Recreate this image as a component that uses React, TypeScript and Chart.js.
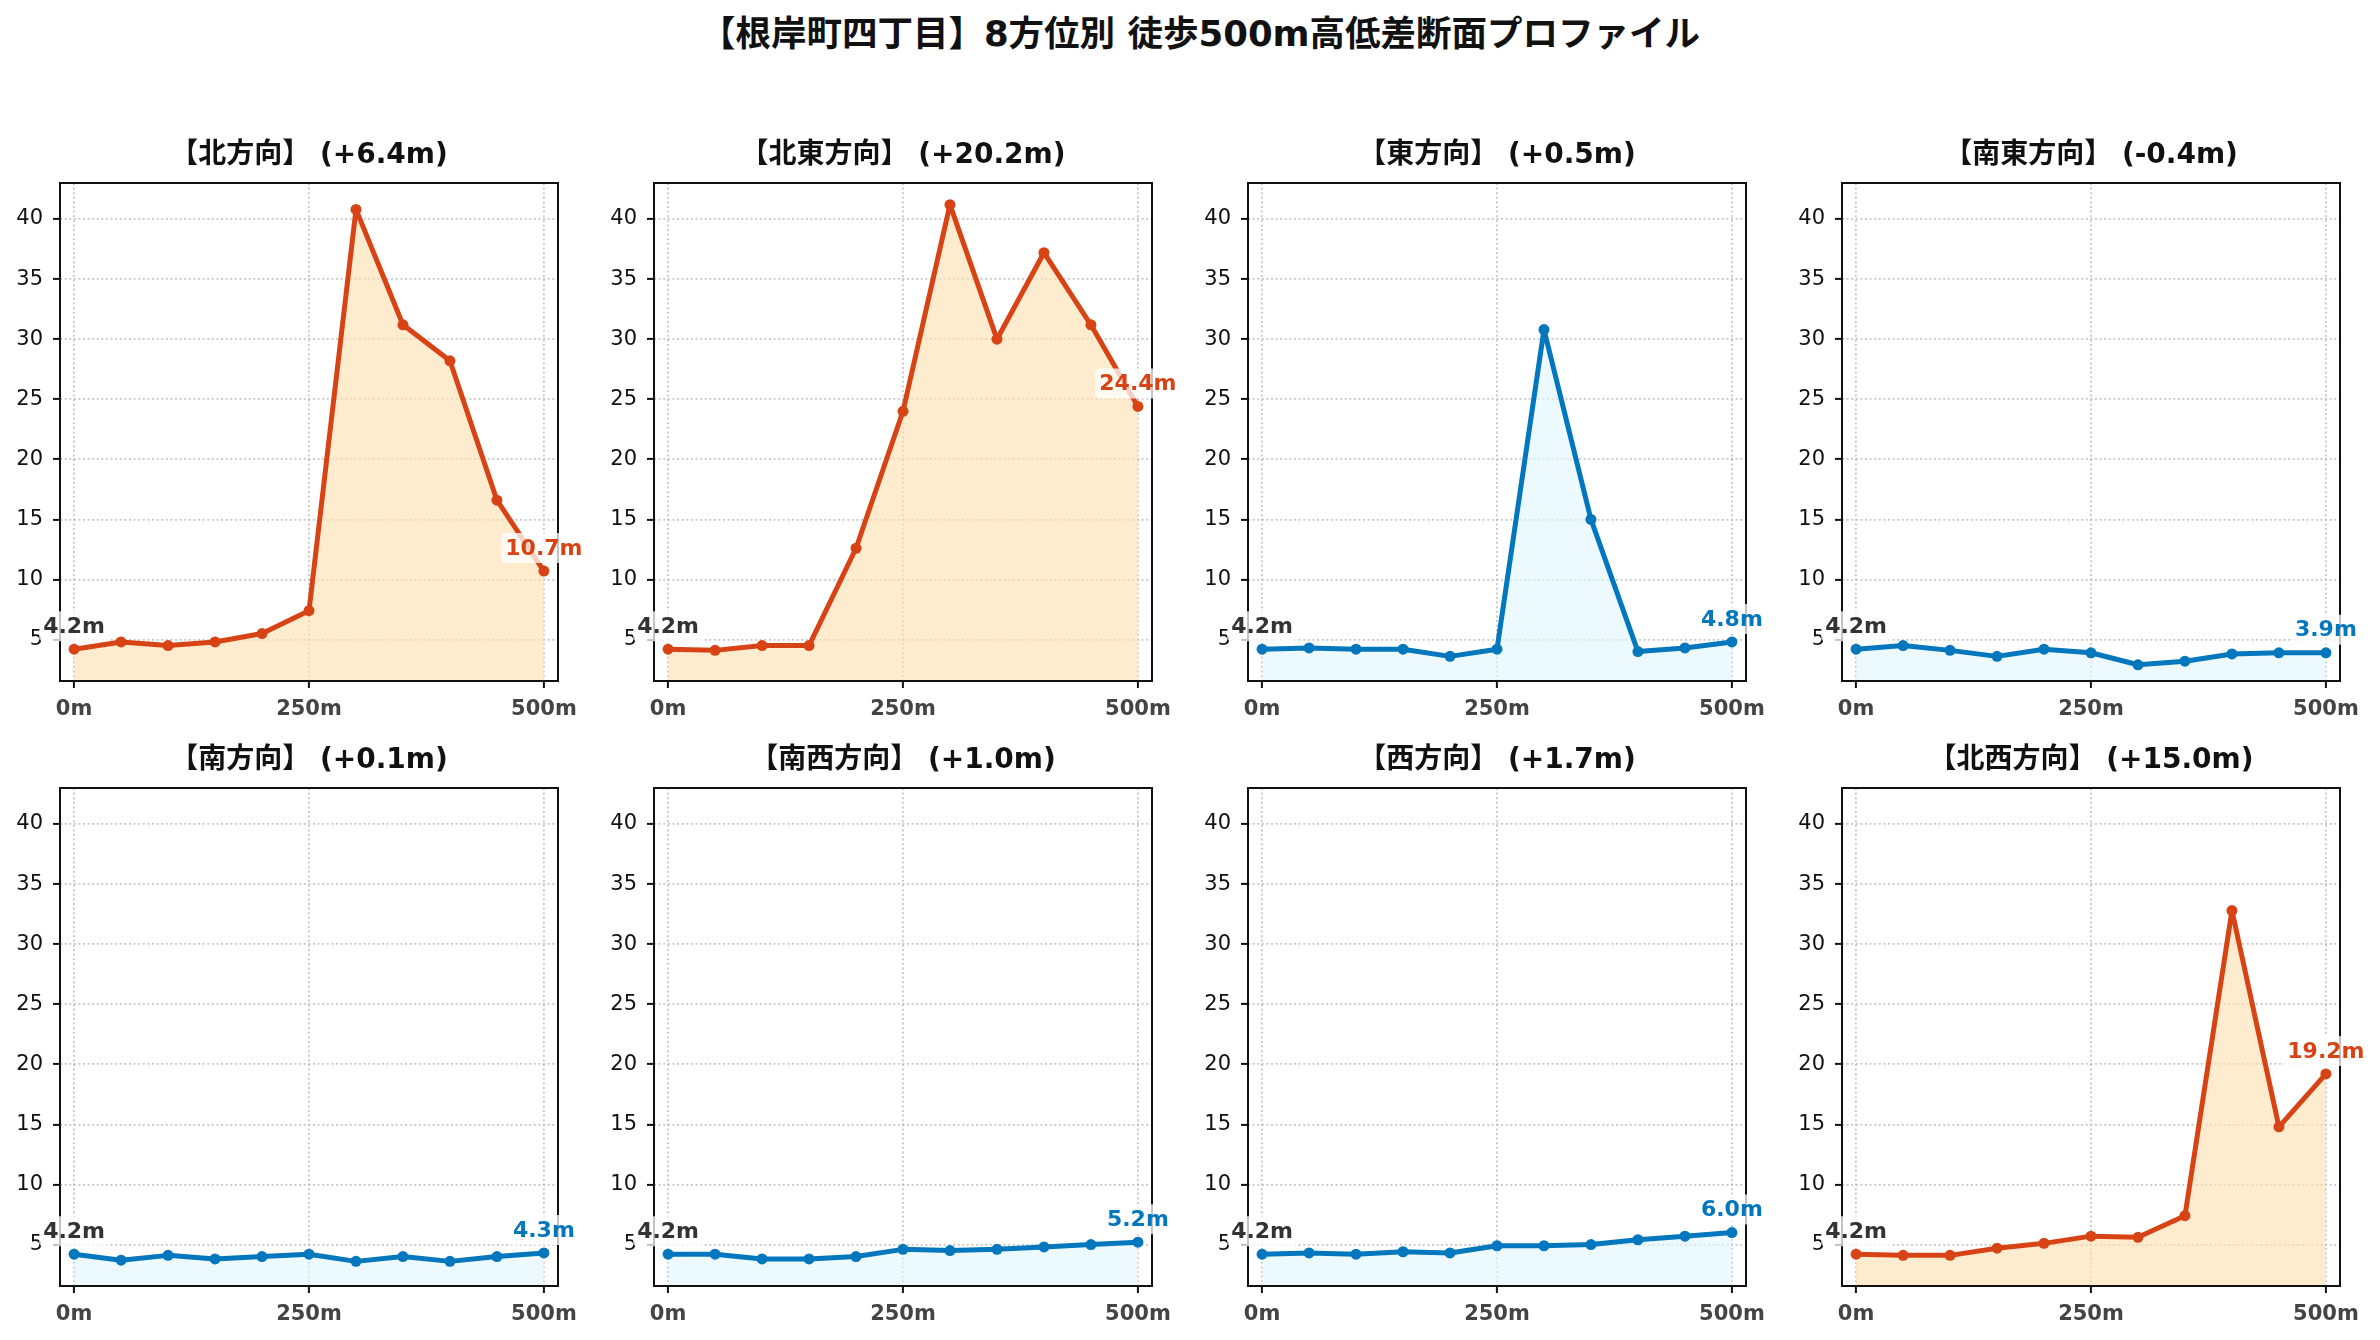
import React, { useEffect, useRef } from 'react';
import { Chart, registerables } from 'chart.js';

Chart.register(...registerables);

const FONT = '"DejaVu Sans", "Noto Sans CJK JP", sans-serif';

const MAIN_TITLE = '【根岸町四丁目】8方位別 徒歩500m高低差断面プロファイル';
const DIRECTIONS = ['北', '北東', '東', '南東', '南', '南西', '西', '北西'];
const DIFFS = [6.4, 20.2, 0.5, -0.4, 0.1, 1.0, 1.7, 15.0];
const DISTANCES = [0, 50, 100, 150, 200, 250, 300, 350, 400, 450, 500];
const X_TICKS = [0, 250, 500];
const Y_TICKS = [5, 10, 15, 20, 25, 30, 35, 40];

const NORTH = [4.2, 4.8, 4.5, 4.8, 5.5, 7.4, 40.8, 31.2, 28.2, 16.6, 10.7];
const NORTHEAST = [4.2, 4.1, 4.5, 4.5, 12.6, 24.0, 41.2, 30.0, 37.2, 31.2, 24.4];
const EAST = [4.2, 4.3, 4.2, 4.2, 3.6, 4.2, 30.8, 15.0, 4.0, 4.3, 4.8];
const SOUTHEAST = [4.2, 4.5, 4.1, 3.6, 4.2, 3.9, 2.9, 3.2, 3.8, 3.9, 3.9];
const SOUTH = [4.2, 3.7, 4.1, 3.8, 4.0, 4.2, 3.6, 4.0, 3.6, 4.0, 4.3];
const SOUTHWEST = [4.2, 4.2, 3.8, 3.8, 4.0, 4.6, 4.5, 4.6, 4.8, 5.0, 5.2];
const WEST = [4.2, 4.3, 4.2, 4.4, 4.3, 4.9, 4.9, 5.0, 5.4, 5.7, 6.0];
const NORTHWEST = [4.2, 4.1, 4.1, 4.7, 5.1, 5.7, 5.6, 7.4, 32.8, 14.8, 19.2];

const SERIES = [NORTH, NORTHEAST, EAST, SOUTHEAST, SOUTH, SOUTHWEST, WEST, NORTHWEST];

const RED = '#D84315';
const RED_FILL = 'rgba(255, 224, 178, 0.62)';
const BLUE = '#0277BD';
const BLUE_FILL = 'rgba(225, 245, 254, 0.62)';

const X_MIN = -15;
const X_MAX = 515;
const Y_MIN = 1.55;
const Y_MAX = 43;

// layout (pixels)
const COL_LEFTS = [60, 654, 1248, 1842];
const ROW_TOPS = [183, 788];
const AREA_W = 498;
const AREA_H = 498;
const PAD_LEFT = 60;
const PAD_TOP = 60;
const CANVAS_W = 594;
const CANVAS_H = 608;
const XAXIS_H = CANVAS_H - PAD_TOP - AREA_H;

function fmtDiff(d: number) {
  return (d >= 0 ? '+' : '') + d.toFixed(1);
}

function Panel({ index }: { index: number }) {
  const ref = useRef<HTMLCanvasElement | null>(null);

  useEffect(() => {
    const canvas = ref.current;
    if (!canvas) return;
    const values = SERIES[index];
    const diff = DIFFS[index];
    const color = diff > 5 ? RED : BLUE;
    const fill = diff > 5 ? RED_FILL : BLUE_FILL;
    const title = `【${DIRECTIONS[index]}方向】 (${fmtDiff(diff)}m)`;
    const points = DISTANCES.map((d, i) => ({ x: d, y: values[i] }));

    const deco = {
      id: 'panelDeco' + index,
      afterDraw(chart: any) {
        const { ctx, chartArea: a } = chart;
        ctx.save();
        // frame
        ctx.strokeStyle = '#111';
        ctx.lineWidth = 2;
        ctx.setLineDash([]);
        ctx.strokeRect(a.left, a.top, a.right - a.left, a.bottom - a.top);
        // panel title
        ctx.font = `bold 28px ${FONT}`;
        ctx.fillStyle = '#111';
        ctx.textAlign = 'center';
        ctx.textBaseline = 'middle';
        ctx.fillText(title, (a.left + a.right) / 2, a.top - 27);
        // start / end labels
        const meta = chart.getDatasetMeta(0);
        const pts = meta.data;
        const drawLabel = (pt: any, text: string, col: string) => {
          ctx.font = `bold 22px ${FONT}`;
          const w = ctx.measureText(text).width;
          const cx = pt.x;
          const cy = pt.y - 23;
          const bw = w + 8;
          const bh = 30;
          ctx.fillStyle = 'rgba(255,255,255,0.75)';
          ctx.beginPath();
          const r = 4;
          const x0 = cx - bw / 2;
          const y0 = cy - bh / 2;
          ctx.moveTo(x0 + r, y0);
          ctx.lineTo(x0 + bw - r, y0);
          ctx.quadraticCurveTo(x0 + bw, y0, x0 + bw, y0 + r);
          ctx.lineTo(x0 + bw, y0 + bh - r);
          ctx.quadraticCurveTo(x0 + bw, y0 + bh, x0 + bw - r, y0 + bh);
          ctx.lineTo(x0 + r, y0 + bh);
          ctx.quadraticCurveTo(x0, y0 + bh, x0, y0 + bh - r);
          ctx.lineTo(x0, y0 + r);
          ctx.quadraticCurveTo(x0, y0, x0 + r, y0);
          ctx.closePath();
          ctx.fill();
          ctx.fillStyle = col;
          ctx.textAlign = 'center';
          ctx.textBaseline = 'middle';
          ctx.fillText(text, cx, cy + 1);
        };
        drawLabel(pts[0], `${values[0].toFixed(1)}m`, '#333333');
        const last = values.length - 1;
        drawLabel(pts[last], `${values[last].toFixed(1)}m`, color);
        ctx.restore();
      },
    };

    const chart = new Chart(canvas, {
      type: 'line',
      data: {
        datasets: [
          {
            data: points,
            borderColor: color,
            backgroundColor: fill,
            borderWidth: 5,
            borderJoinStyle: 'round',
            borderCapStyle: 'round',
            pointRadius: 5.5,
            pointBackgroundColor: color,
            pointBorderColor: color,
            pointBorderWidth: 0,
            fill: 'start',
            tension: 0,
          },
        ],
      },
      options: {
        animation: false,
        responsive: false,
        events: [],
        layout: {
          padding: { left: 0, top: PAD_TOP, right: CANVAS_W - PAD_LEFT - AREA_W, bottom: 0 },
        },
        plugins: {
          legend: { display: false },
          tooltip: { enabled: false },
          title: { display: false },
        },
        scales: {
          x: {
            type: 'linear',
            min: X_MIN,
            max: X_MAX,
            afterBuildTicks: (axis: any) => {
              axis.ticks = X_TICKS.map((v) => ({ value: v }));
            },
            afterFit: (axis: any) => {
              axis.height = XAXIS_H;
            },
            ticks: {
              callback: (v: any) => `${v}m`,
              font: { family: FONT, size: 21, weight: 'bold' },
              color: '#444444',
              padding: 9,
              maxRotation: 0,
              autoSkip: false,
            },
            grid: {
              color: 'rgba(175,175,175,0.7)',
              lineWidth: 1.8,
              tickColor: '#111',
              tickLength: 7,
              tickWidth: 2,
              tickBorderDash: [],
            },
            border: { display: false, dash: [2, 2.6] },
          },
          y: {
            type: 'linear',
            min: Y_MIN,
            max: Y_MAX,
            afterBuildTicks: (axis: any) => {
              axis.ticks = Y_TICKS.map((v) => ({ value: v }));
            },
            afterFit: (axis: any) => {
              axis.width = PAD_LEFT;
            },
            ticks: {
              font: { family: FONT, size: 21 },
              color: '#111',
              padding: 10,
              autoSkip: false,
            },
            grid: {
              color: 'rgba(175,175,175,0.7)',
              lineWidth: 1.8,
              tickColor: '#111',
              tickLength: 7,
              tickWidth: 2,
              tickBorderDash: [],
            },
            border: { display: false, dash: [2, 2.6] },
          },
        },
      } as any,
      plugins: [deco],
    });
    return () => chart.destroy();
  }, [index]);

  const col = index % 4;
  const row = Math.floor(index / 4);
  return (
    <canvas
      ref={ref}
      width={CANVAS_W}
      height={CANVAS_H}
      style={{
        position: 'absolute',
        left: COL_LEFTS[col] - PAD_LEFT,
        top: ROW_TOPS[row] - PAD_TOP,
        width: CANVAS_W,
        height: CANVAS_H,
      }}
    />
  );
}

export default function App() {
  useEffect(() => {
    document.body.style.margin = '0';
  }, []);
  return (
    <div
      style={{
        position: 'absolute',
        left: 0,
        top: 0,
        width: 2380,
        height: 1340,
        background: '#ffffff',
        overflow: 'hidden',
      }}
    >
      <div
        style={{
          position: 'absolute',
          left: 200,
          width: 2000,
          top: 13,
          height: 42,
          lineHeight: '42px',
          textAlign: 'center',
          fontFamily: FONT,
          fontWeight: 'bold',
          fontSize: 35.5,
          color: '#111',
          whiteSpace: 'nowrap',
        }}
      >
        {MAIN_TITLE}
      </div>
      {SERIES.map((_, i) => (
        <Panel key={i} index={i} />
      ))}
    </div>
  );
}
